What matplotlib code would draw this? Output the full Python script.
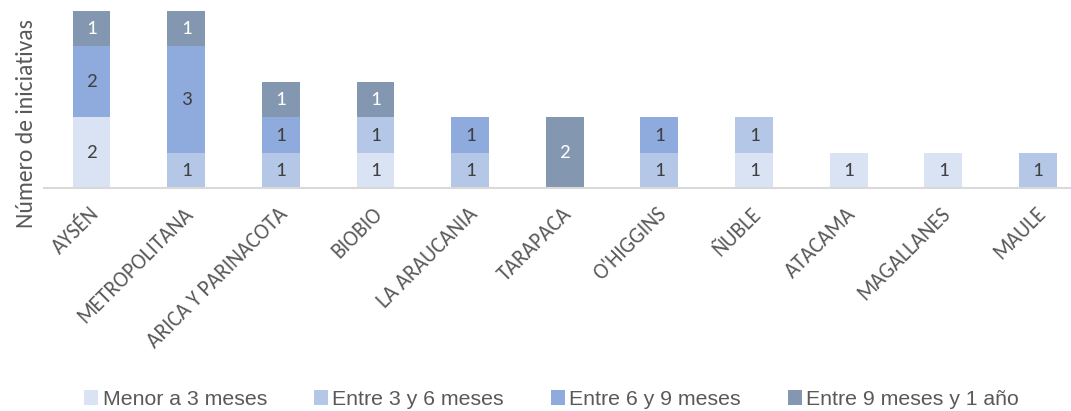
import matplotlib
matplotlib.use("Agg")
import matplotlib.pyplot as plt
import matplotlib.transforms as mtransforms
import numpy as np

categories = ["AYSÉN", "METROPOLITANA", "ARICA Y PARINACOTA", "BIOBIO", "LA ARAUCANIA",
              "TARAPACA", "O'HIGGINS", "ÑUBLE", "ATACAMA", "MAGALLANES", "MAULE"]
series_names = ["Menor a 3 meses", "Entre 3 y 6 meses", "Entre 6 y 9 meses", "Entre 9 meses y 1 año"]
menor_3 = [2, 0, 0, 1, 0, 0, 0, 1, 1, 1, 0]
entre_3_6 = [0, 1, 1, 1, 1, 0, 1, 1, 0, 0, 1]
entre_6_9 = [2, 3, 1, 0, 1, 0, 1, 0, 0, 0, 0]
entre_9_12 = [1, 1, 1, 1, 0, 2, 0, 0, 0, 0, 0]
y_label = "Número de iniciativas"

colors = ["#DAE3F3", "#B4C7E7", "#8FAADC", "#8497B0"]
label_colors = ["#404040", "#404040", "#404040", "#FFFFFF"]

main_font = ["Carlito", "DejaVu Sans"]
leg_font = ["Liberation Sans", "DejaVu Sans"]

W, H = 1071, 411
fig = plt.figure(figsize=(W / 100, H / 100), dpi=100)
left_px, right_px = 44.2, 1085.3
base_px, top_px = 188.3, 11.0
ax = fig.add_axes([left_px / W, 1 - base_px / H, (right_px - left_px) / W, (base_px - top_px) / H])

x = np.arange(len(categories))
data = [menor_3, entre_3_6, entre_6_9, entre_9_12]
bottom = np.zeros(len(categories))
for vals, name, c, lc in zip(data, series_names, colors, label_colors):
    vals = np.array(vals, dtype=float)
    ax.bar(x, vals, width=0.40, bottom=bottom, color=c, label=name, edgecolor="none")
    for xi, v, b in zip(x, vals, bottom):
        if v > 0:
            ax.text(xi, b + v / 2, f"{int(v)}", ha="center", va="center", color=lc,
                    fontsize=15, family=main_font)
    bottom += vals

ax.set_xlim(-0.5, len(categories) - 0.5)
ax.set_ylim(0, 5)
for s in ["top", "right", "left"]:
    ax.spines[s].set_visible(False)
ax.spines["bottom"].set_color("#D9D9D9")
ax.spines["bottom"].set_linewidth(1.5)
ax.set_yticks([])
ax.set_xticks(x)
ax.set_xticklabels(categories, rotation=45, ha="right", rotation_mode="anchor",
                   fontsize=15.5, color="#595959", family=main_font)
ax.tick_params(axis="x", length=0, pad=11)
offset = mtransforms.ScaledTranslation(-3 / 100, 0, fig.dpi_scale_trans)
for lbl in ax.get_xticklabels():
    lbl.set_transform(lbl.get_transform() + offset)

fig.text(26.5 / W, 1 - 124 / H, y_label, rotation=90, ha="center", va="center",
         fontsize=17, color="#595959", family=main_font)

handles, labels = ax.get_legend_handles_labels()
leg = fig.legend(handles, labels, loc="center", bbox_to_anchor=(551.5 / W, 1 - 399.5 / H), ncol=4,
                 frameon=False, handlelength=0.67, handleheight=0.67, handletextpad=0.2,
                 columnspacing=2.2, borderpad=0, prop={"family": leg_font, "size": 15.3})
for t in leg.get_texts():
    t.set_color("#595959")

fig.savefig("out.png", dpi=100)
